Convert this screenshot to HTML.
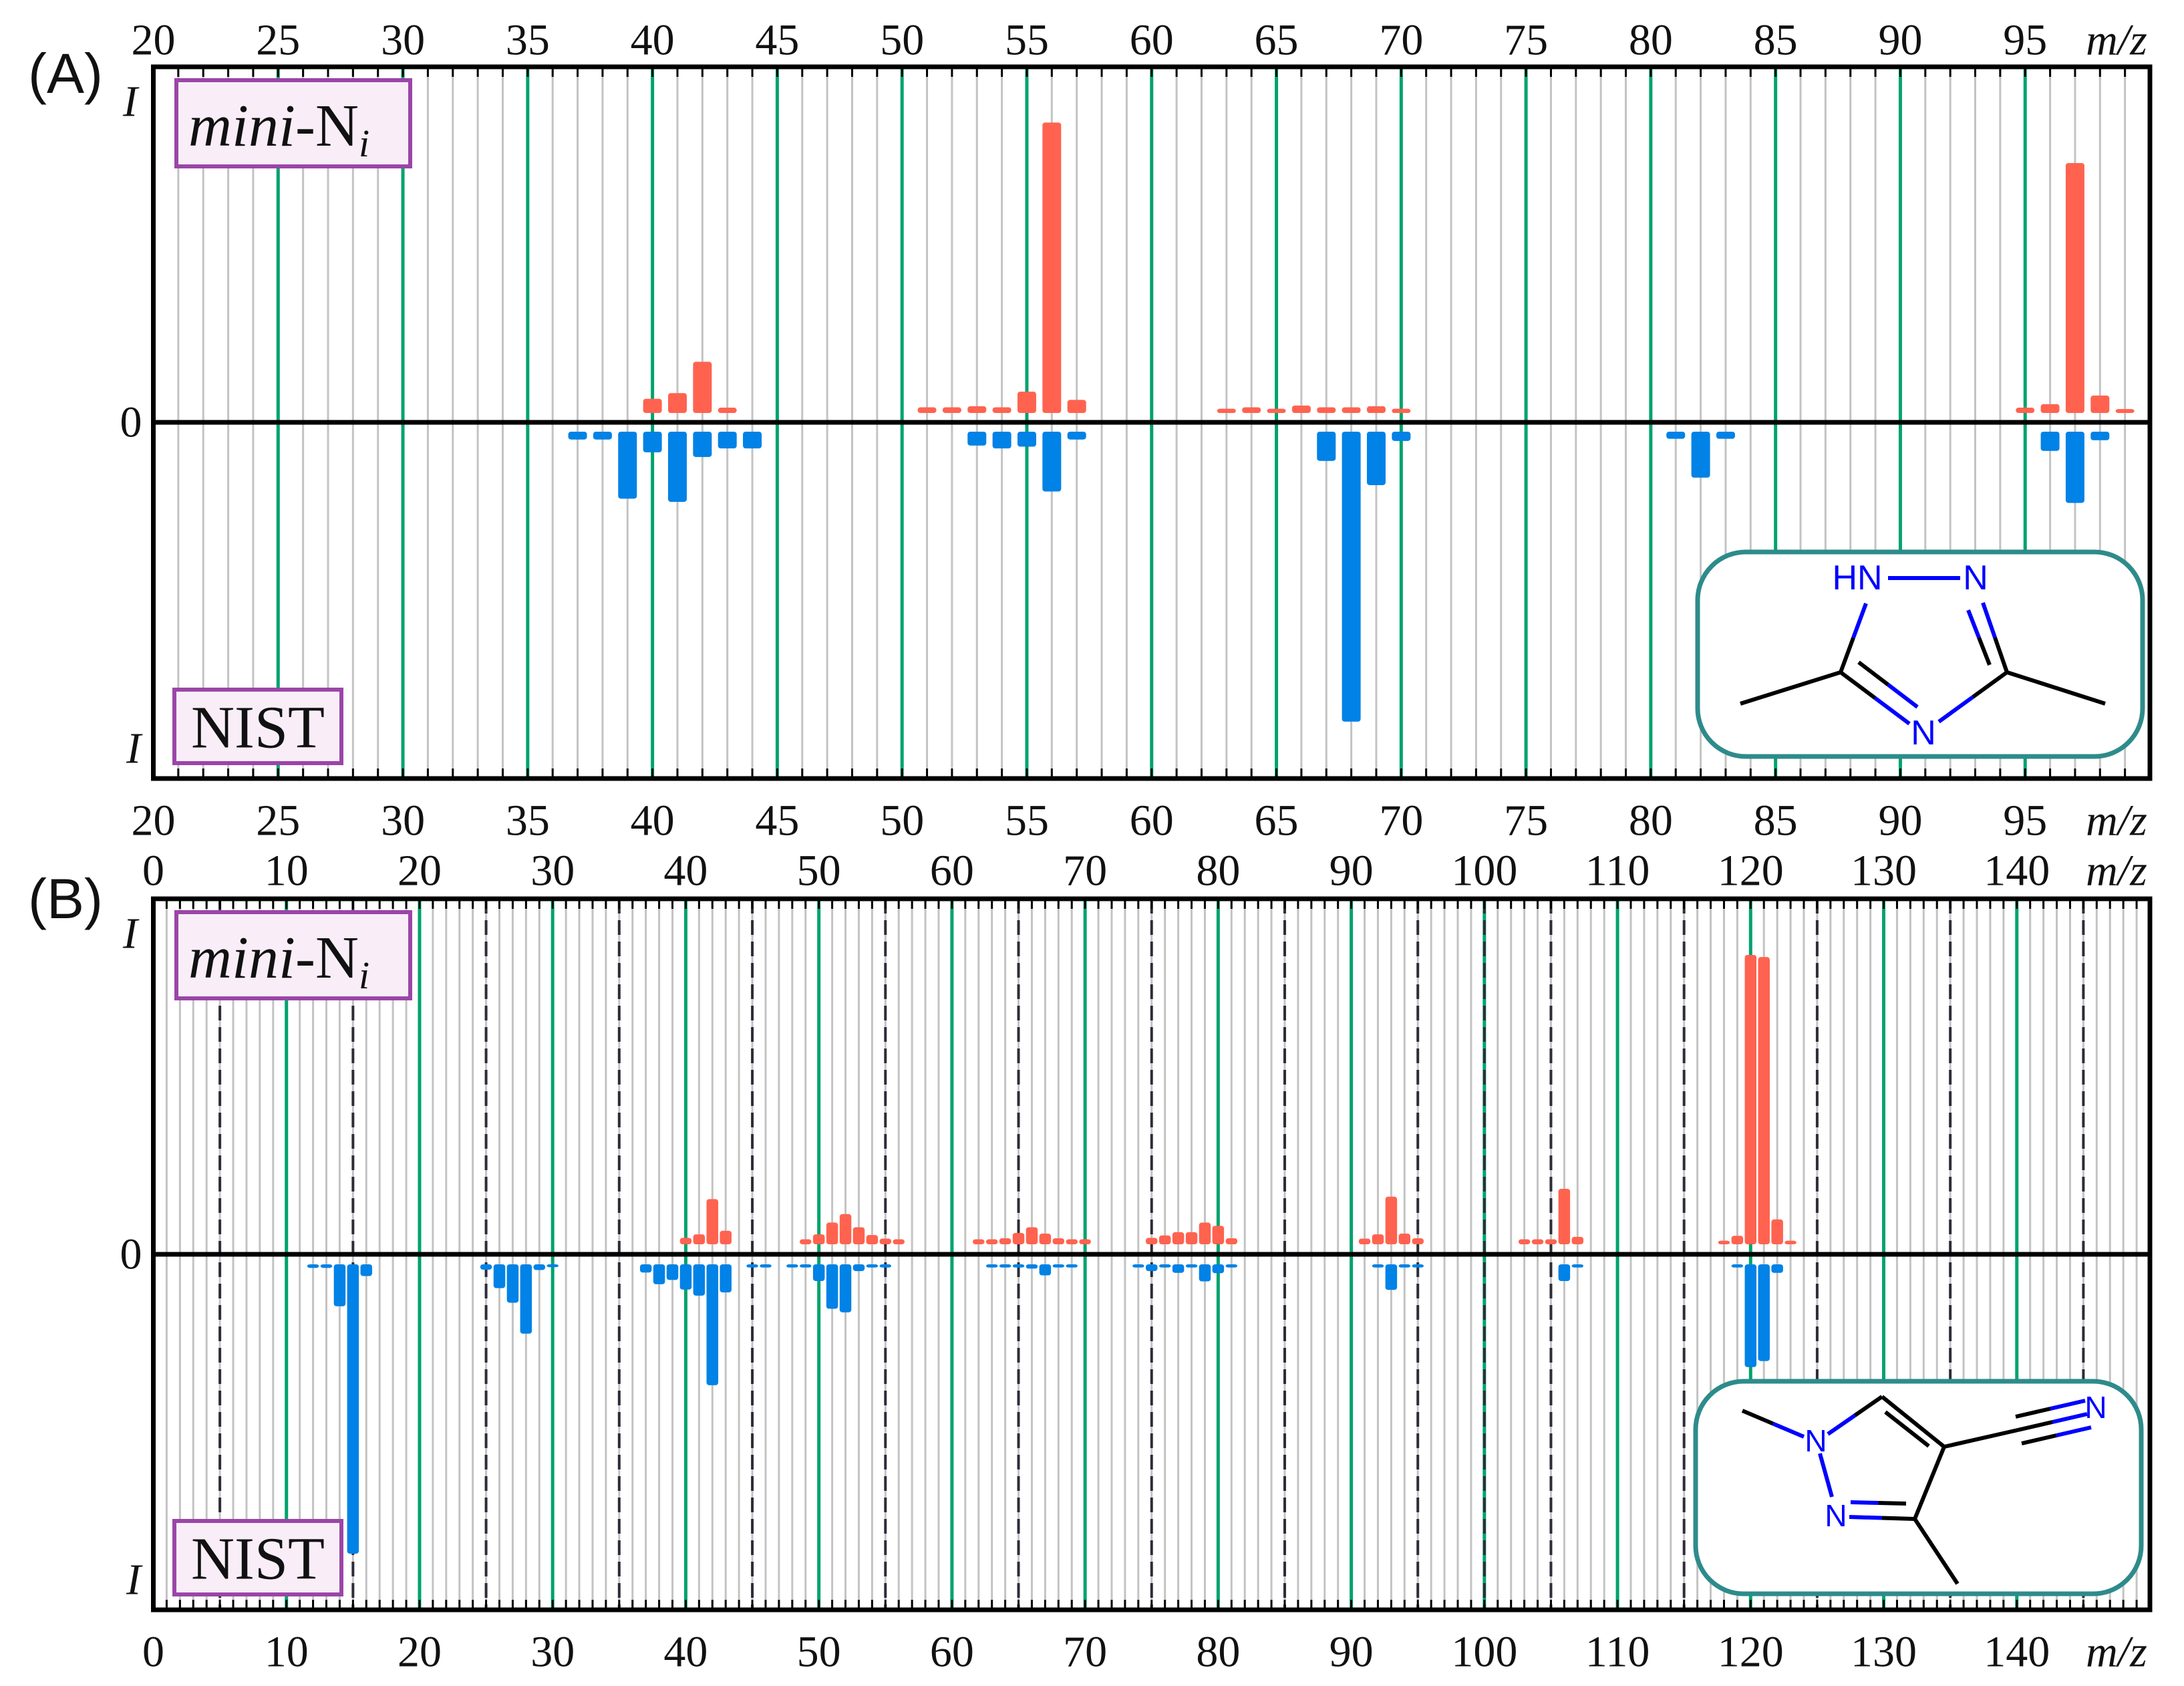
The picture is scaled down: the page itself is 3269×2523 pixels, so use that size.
<!DOCTYPE html>
<html><head><meta charset="utf-8">
<style>
html,body{margin:0;padding:0;background:#fff;}
svg{display:block;}
</style></head>
<body>
<svg id="fig" width="3269" height="2523" viewBox="0 0 3269 2523" xmlns="http://www.w3.org/2000/svg"></svg>
<script>
// ---- Panel A data (m/z, relative intensity % of axis half-height) ----
const aMiniMz  = [40,41,42,43,51,52,53,54,55,56,57,63,64,65,66,67,68,69,70,95,96,97,98,99];
const aMiniVal = [4.0,5.6,14.4,1.5,1.6,1.6,1.9,1.6,6.0,81.7,3.7,1.2,1.6,1.2,2.1,1.6,1.6,1.9,1.2,1.5,2.5,70.3,4.9,1.1];
const aNistMz  = [37,38,39,40,41,42,43,44,53,54,55,56,57,67,68,69,70,81,82,83,96,97,98];
const aNistVal = [2.2,2.2,18.8,5.8,19.7,7.1,4.7,4.7,3.9,4.7,4.2,16.8,2.2,8.2,81.4,15.0,2.6,2.0,12.9,2.0,5.4,20.0,2.4];
const aTicks   = [20,25,30,35,40,45,50,55,60,65,70,75,80,85,90,95];
// ---- Panel B data ----
const bMiniMz  = [40,41,42,43,49,50,51,52,53,54,55,56,62,63,64,65,66,67,68,69,70,75,76,77,78,79,80,81,91,92,93,94,95,103,104,105,106,107,118,119,120,121,122,123];
const bMiniVal = [1.8,2.8,12.7,3.8,1.4,2.8,6.1,8.5,4.8,2.6,1.6,1.4,1.4,1.4,1.7,3.2,4.8,3.0,1.7,1.4,1.4,1.8,2.5,3.4,3.4,6.1,5.2,1.7,1.6,2.8,13.4,3.0,1.7,1.4,1.4,1.4,15.6,2.1,1.0,2.4,81.4,80.8,7.0,1.0];
const bNistMz  = [12,13,14,15,16,25,26,27,28,29,30,37,38,39,40,41,42,43,45,46,48,49,50,51,52,53,54,55,63,64,65,66,67,68,69,74,75,76,77,78,79,80,81,92,93,94,95,106,107,119,120,121,122];
const bNistVal = [1.0,1.0,11.8,81.4,3.3,1.5,6.7,10.8,19.5,1.6,0.8,2.3,5.6,4.4,7.1,8.8,34.0,7.9,0.9,0.9,0.9,0.9,4.7,12.5,13.5,1.9,0.9,0.9,0.9,0.9,0.9,1.2,3.1,0.9,0.9,0.9,1.9,0.9,2.4,0.9,4.8,2.5,0.9,0.9,7.2,0.9,0.9,4.7,0.9,0.9,28.9,27.2,2.4];
const bTicks   = [0,10,20,30,40,50,60,70,80,90,100,110,120,130,140];

const NS="http://www.w3.org/2000/svg";
const svg=document.getElementById('fig');
function el(tag,attrs,parent){const e=document.createElementNS(NS,tag);for(const k in attrs)e.setAttribute(k,attrs[k]);(parent||svg).appendChild(e);return e;}
function txt(s,x,y,size,opts,parent){const t=el('text',Object.assign({x:x,y:y,'font-size':size,'font-family':'"Liberation Serif", serif','text-anchor':'middle','dominant-baseline':'central',fill:'#111'},opts||{}),parent);t.textContent=s;return t;}

function panel(cfg){
  const g=el('g',{});
  
  
  const sx=m=>cfg.x0+(m-cfg.min)*(cfg.x1-cfg.x0)/(cfg.max-cfg.min);
  const syPos=v=>cfg.zero-cfg.gap-v/100*(cfg.zero-cfg.top);
  const syNeg=v=>cfg.zero+cfg.gap+v/100*(cfg.bot-cfg.zero);
  for(let m=cfg.min+1;m<cfg.max;m++){
    const l=el('line',{x1:sx(m),x2:sx(m),y1:cfg.top,y2:cfg.bot,stroke:'#c3c3c3','stroke-width':3},g);
    
    
  }
  for(let m=cfg.min+cfg.major;m<cfg.max;m+=cfg.major){
    const l=el('line',{x1:sx(m),x2:sx(m),y1:cfg.top,y2:cfg.bot,stroke:'#00a36c','stroke-width':5},g);
    
    
  }
  if(cfg.dash){
    for(let m=5;m<cfg.max;m+=10){
      const l=el('line',{x1:sx(m),x2:sx(m),y1:cfg.top,y2:cfg.bot,stroke:'#2e2c3a','stroke-width':4,'stroke-dasharray':'22 10'},g);
      
      
    }
    const l=el('line',{x1:sx(100),x2:sx(100),y1:cfg.top,y2:cfg.bot,stroke:'#2e2c3a','stroke-width':4,'stroke-dasharray':'22 10'},g);
    
    
  }
  for(let m=cfg.min+1;m<cfg.max;m++){
    const t1=el('line',{x1:sx(m),x2:sx(m),y1:cfg.top,y2:cfg.top+15,stroke:'#000','stroke-width':3},g);
    
    
    const t2=el('line',{x1:sx(m),x2:sx(m),y1:cfg.bot-15,y2:cfg.bot,stroke:'#000','stroke-width':3},g);
    
    
  }
  const bw=cfg.bw;
  cfg.miniMz.forEach((m,i)=>{
    const y=syPos(cfg.miniVal[i]);
    const r=el('rect',{x:sx(m)-bw/2,y:y,width:bw,height:cfg.zero-cfg.gap-y,rx:4,fill:'#ff6350'},g);
    
    
  });
  cfg.nistMz.forEach((m,i)=>{
    const y2=syNeg(cfg.nistVal[i]);
    const r=el('rect',{x:sx(m)-bw/2,y:cfg.zero+cfg.gap,width:bw,height:y2-cfg.zero-cfg.gap,rx:4,fill:'#0082e6'},g);
    
    
  });
  const z=el('line',{x1:cfg.x0,x2:cfg.x1,y1:cfg.zero,y2:cfg.zero,stroke:'#000','stroke-width':7},g);
  
  
  const f=el('rect',{x:cfg.x0,y:cfg.top,width:cfg.x1-cfg.x0,height:cfg.bot-cfg.top,fill:'none',stroke:'#000','stroke-width':7},g);
  
  
  cfg.ticks.forEach(t=>{
    const a=txt(String(t),sx(t),cfg.topLabelY,66,{},g);
    
    
    const b=txt(String(t),sx(t),cfg.botLabelY,66,{},g);
    
    
  });
  const mz1=txt('m/z',3168,cfg.topLabelY,66,{'font-style':'italic'},g);
  
  
  const mz2=txt('m/z',3168,cfg.botLabelY,66,{'font-style':'italic'},g);
  
  
  const i1=txt('I',195,cfg.top+52,66,{'font-style':'italic'},g);
  
  
  const i0=txt('0',196,cfg.zero,66,{},g);
  
  
  const i2=txt('I',200,cfg.bot-45,66,{'font-style':'italic'},g);
  
  
  const pl=txt(cfg.letter,98,cfg.letterY,84,{'font-family':'"Liberation Sans", sans-serif'},g);
  
  
  const lb=el('g',{},g);
  
  
  el('rect',{x:264,y:cfg.top+20,width:350,height:129,fill:'#f9eef8',stroke:'#9b45a8','stroke-width':6},lb);
  const mt=el('text',{x:282,y:cfg.top+118,'font-size':90,'font-family':'"Liberation Serif", serif',fill:'#111'},lb);
  const s1=el('tspan',{'font-style':'italic'},mt); s1.textContent='mini';
  const s2=el('tspan',{},mt); s2.textContent='-N';
  const s3=el('tspan',{'font-style':'italic','font-size':58,dy:16},mt); s3.textContent='i';
  const nb=el('g',{},g);
  
  
  el('rect',{x:261,y:cfg.bot-133,width:250,height:110,fill:'#f9eef8',stroke:'#9b45a8','stroke-width':6},nb);
  txt('NIST',386,cfg.bot-76,90,{},nb);
}

panel({name:'panel-a',letter:'(A)',letterY:110,x0:229.5,x1:3218,min:20,max:100,top:100,zero:632,bot:1165,gap:14,bw:28,major:5,dash:false,
  topLabelY:60,botLabelY:1228,ticks:aTicks,miniMz:aMiniMz,miniVal:aMiniVal,nistMz:aNistMz,nistVal:aNistVal});
panel({name:'panel-b',letter:'(B)',letterY:1345,x0:229.5,x1:3218,min:0,max:150,top:1345,zero:1877,bot:2409,gap:15,bw:17.5,major:10,dash:true,
  topLabelY:1303,botLabelY:2472,ticks:bTicks,miniMz:bMiniMz,miniVal:bMiniVal,nistMz:bNistMz,nistVal:bNistVal});

function line(g,x1,y1,x2,y2,c){el('line',{x1:x1,y1:y1,x2:x2,y2:y2,stroke:c,'stroke-width':6},g);}
function half(g,x1,y1,x2,y2,c1,c2){const mx=(x1+x2)/2,my=(y1+y2)/2;line(g,x1,y1,mx,my,c1);line(g,mx,my,x2,y2,c2);}
const BL='#0000ff',BK='#000';
const ma=el('g',{});


el('rect',{x:2541,y:826,width:666,height:306,rx:72,fill:'#fff',stroke:'#2e8b8b','stroke-width':7},ma);
line(ma,2826,865,2934,865,BL);
half(ma,2793,903,2755,1006,BL,BK);
half(ma,3004,1006,2968,902,BK,BL);
half(ma,2978,995,2946,913,BK,BL);
half(ma,2755,1006,2858,1083,BK,BL);
half(ma,2782,991,2870,1058,BK,BL);
half(ma,3004,1006,2902,1080,BK,BL);
line(ma,2755,1006,2605,1053,BK);
line(ma,3004,1006,3151,1053,BK);
txt('HN',2780,865,52,{'font-family':'"Liberation Sans", sans-serif',fill:BL},ma);
txt('N',2957,865,52,{'font-family':'"Liberation Sans", sans-serif',fill:BL},ma);
txt('N',2879,1097,52,{'font-family':'"Liberation Sans", sans-serif',fill:BL},ma);

const mb=el('g',{});


el('rect',{x:2538,y:2067,width:667,height:318,rx:72,fill:'#fff',stroke:'#2e8b8b','stroke-width':7},mb);
half(mb,2608,2111,2700,2150,BK,BL);
half(mb,2736,2146,2817,2090,BL,BK);
line(mb,2817,2090,2910,2165,BK);
line(mb,2822,2113,2887,2164,BK);
line(mb,2910,2165,2866,2273,BK);
half(mb,2866,2273,2768,2270,BK,BL);
half(mb,2853,2250,2770,2248,BK,BL);
line(mb,2724,2175,2742,2240,BL);
line(mb,2866,2273,2930,2370,BK);
line(mb,2910,2165,3020,2140,BK);
half(mb,3020,2140,3124,2116,BK,BL);
half(mb,3017,2120,3121,2096,BK,BL);
half(mb,3026,2160,3130,2136,BK,BL);
txt('N',2718,2156,46,{'font-family':'"Liberation Sans", sans-serif',fill:BL},mb);
txt('N',2748,2268,46,{'font-family':'"Liberation Sans", sans-serif',fill:BL},mb);
txt('N',3137,2106,46,{'font-family':'"Liberation Sans", sans-serif',fill:BL},mb);
</script>
</body></html>
